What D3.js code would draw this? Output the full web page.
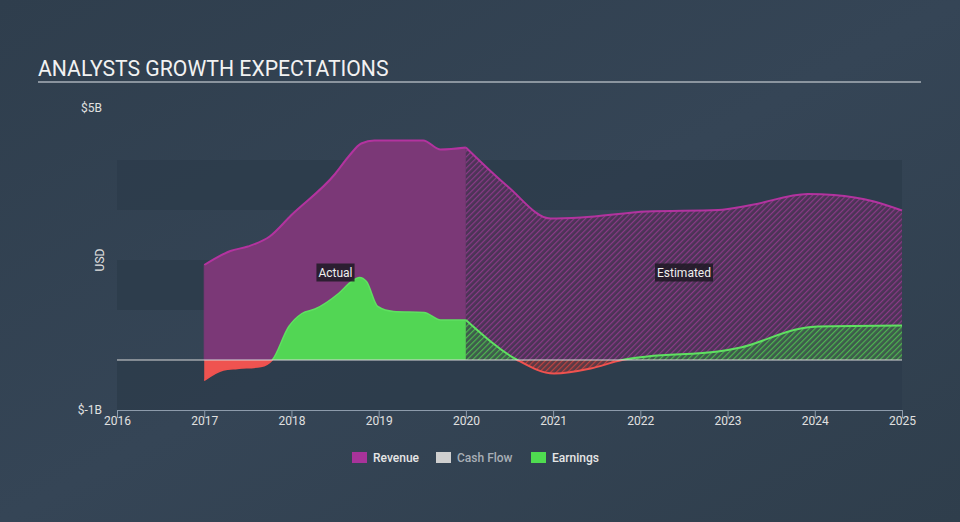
<!DOCTYPE html>
<html>
<head>
<meta charset="utf-8">
<script src="https://cdn.jsdelivr.net/npm/d3@7"></script>
<style>
  html, body { margin: 0; padding: 0; background: #344454; }
  svg { display: block; font-family: Roboto, "Open Sans", sans-serif; }
</style>
</head>
<body>
<svg id="chart" width="960" height="522"></svg>
<script>
// ---- Data (decimal year, USD billions) ----
const revenueActualYears = [2017.0, 2017.3, 2017.5, 2017.75, 2018.0, 2018.5, 2018.66, 2018.8, 2018.95, 2019.51, 2019.71, 2020.0];
const revenueActualVals  = [1.90, 2.18, 2.27, 2.47, 2.90, 3.72, 4.08, 4.33, 4.39, 4.39, 4.21, 4.25];
const revenueEstYears = [2020.0, 2020.48, 2020.97, 2021.32, 2022.08, 2022.89, 2023.27, 2023.92, 2024.22, 2024.68, 2025.0];
const revenueEstVals  = [4.25, 3.47, 2.83, 2.85, 2.97, 3.00, 3.10, 3.32, 3.30, 3.17, 2.99];

const earningsActualYears = [2017.0, 2017.22, 2017.38, 2017.65, 2017.78, 2017.97, 2018.12, 2018.27, 2018.54, 2018.69, 2018.78, 2018.86, 2018.99, 2019.17, 2019.52, 2019.71, 2020.0];
const earningsActualVals  = [-0.41, -0.20, -0.17, -0.13, 0.0, 0.67, 0.93, 1.02, 1.33, 1.57, 1.65, 1.57, 1.07, 0.97, 0.95, 0.80, 0.80];
const earningsEstYears = [2020.0, 2020.59, 2021.01, 2021.43, 2021.79, 2022.08, 2022.89, 2023.15, 2023.84, 2024.03, 2025.0];
const earningsEstVals  = [0.80, 0.0, -0.27, -0.17, 0.0, 0.07, 0.17, 0.25, 0.63, 0.67, 0.69];

const xTickYears = [2016, 2017, 2018, 2019, 2020, 2021, 2022, 2023, 2024, 2025];
const yTickVals = [-1, 5];
const bandVals = [4, 2, 0]; // dark bands [v-1, v]
const legendItems = ["Revenue", "Cash Flow", "Earnings"];
const legendColors = ["#a8339a", "#cfcfcf", "#4fdc50"];

// ---- Layout ----
const svg = d3.select("#chart");
const W = 960, H = 522;
const x = d3.scaleLinear().domain([2016, 2025]).range([117, 902]);
const y = d3.scaleLinear().domain([-1, 5]).range([410, 110]);

const defs = svg.append("defs");
const bg = defs.append("linearGradient").attr("id", "bg").attr("x1", 0).attr("y1", 0).attr("x2", 1).attr("y2", 1);
bg.append("stop").attr("offset", "0%").attr("stop-color", "#2f3e4d");
bg.append("stop").attr("offset", "50%").attr("stop-color", "#354556");
bg.append("stop").attr("offset", "100%").attr("stop-color", "#2f3e4c");
svg.append("rect").attr("width", W).attr("height", H).attr("fill", "url(#bg)");

function hatch(id, bgCol, lineCol) {
  const p = defs.append("pattern").attr("id", id).attr("patternUnits", "userSpaceOnUse")
    .attr("width", 4).attr("height", 4).attr("patternTransform", "rotate(45)");
  p.append("rect").attr("width", 4).attr("height", 4).attr("fill", bgCol);
  p.append("line").attr("x1", 0).attr("y1", 0).attr("x2", 0).attr("y2", 4)
    .attr("stroke", lineCol).attr("stroke-width", 2.4);
}
hatch("hatchRev", "#4b3456", "#8a3a87");
hatch("hatchEarn", "#3e5a4c", "#4db64f");
hatch("hatchNeg", "#5a3a45", "#c04240");

// clip paths above/below zero
defs.append("clipPath").attr("id", "above").append("rect")
  .attr("x", 0).attr("y", 0).attr("width", W).attr("height", y(0));
defs.append("clipPath").attr("id", "below").append("rect")
  .attr("x", 0).attr("y", y(0)).attr("width", W).attr("height", H - y(0));

// ---- Bands ----
svg.append("g").selectAll("rect").data(bandVals).join("rect")
  .attr("x", x(2016)).attr("width", x(2025) - x(2016))
  .attr("y", d => y(d)).attr("height", d => y(d - 1) - y(d))
  .attr("fill", "#2d3c4b").attr("opacity", 0.85);

// ---- Title ----
svg.append("text").attr("x", 38).attr("y", 76).text("ANALYSTS GROWTH EXPECTATIONS")
  .attr("fill", "#f2f2f2").attr("font-size", 21.2);
svg.append("line").attr("x1", 38).attr("x2", 921).attr("y1", 82).attr("y2", 82)
  .attr("stroke", "#a9b0b8").attr("stroke-width", 1.5);

// ---- Areas ----
const curve = d3.curveMonotoneX;
const zip = (xs, vs) => xs.map((t, i) => ({ t, v: vs[i] }));
const revA = zip(revenueActualYears, revenueActualVals);
const revE = zip(revenueEstYears, revenueEstVals);
const earnA = zip(earningsActualYears, earningsActualVals);
const earnE = zip(earningsEstYears, earningsEstVals);

const area = d3.area().x(d => x(d.t)).y0(y(0)).y1(d => y(d.v)).curve(curve);
const line = d3.line().x(d => x(d.t)).y(d => y(d.v)).curve(curve);

svg.append("path").datum(revA).attr("d", area).attr("fill", "#7b3877");
svg.append("path").datum(revE).attr("d", area).attr("fill", "url(#hatchRev)");

// earnings actual
svg.append("path").datum(earnA).attr("d", area).attr("fill", "#52d654").attr("clip-path", "url(#above)");
svg.append("path").datum(earnA).attr("d", area).attr("fill", "#ef5350").attr("clip-path", "url(#below)");
// earnings estimated
svg.append("path").datum(earnE).attr("d", area).attr("fill", "url(#hatchEarn)").attr("clip-path", "url(#above)");
svg.append("path").datum(earnE).attr("d", area).attr("fill", "url(#hatchNeg)").attr("clip-path", "url(#below)");

// lines
svg.append("path").datum(revA).attr("d", line).attr("fill", "none").attr("stroke", "#b3339f").attr("stroke-width", 2);
svg.append("path").datum(revE).attr("d", line).attr("fill", "none").attr("stroke", "#b3339f").attr("stroke-width", 2);
svg.append("path").datum(earnA).attr("d", line).attr("fill", "none").attr("stroke", "#5fe061").attr("stroke-width", 1.5).attr("clip-path", "url(#above)");
svg.append("path").datum(earnA).attr("d", line).attr("fill", "none").attr("stroke", "#f0524f").attr("stroke-width", 1.5).attr("clip-path", "url(#below)");
svg.append("path").datum(earnE).attr("d", line).attr("fill", "none").attr("stroke", "#5fe061").attr("stroke-width", 2).attr("clip-path", "url(#above)");
svg.append("path").datum(earnE).attr("d", line).attr("fill", "none").attr("stroke", "#f0524f").attr("stroke-width", 2).attr("clip-path", "url(#below)");

// start edge of revenue area
svg.append("line").attr("x1", x(2017)).attr("x2", x(2017)).attr("y1", y(0)).attr("y2", y(revenueActualVals[0]))
  .attr("stroke", "#7b3877").attr("stroke-width", 1);

// zero line
svg.append("line").attr("x1", x(2016)).attr("x2", x(2025)).attr("y1", y(0)).attr("y2", y(0))
  .attr("stroke", "#d8d8d8").attr("stroke-width", 1.2);

// ---- Axes ----
const xAxis = svg.append("g").attr("transform", `translate(0,${y(-1)})`)
  .call(d3.axisBottom(x).tickValues(xTickYears).tickFormat(d3.format("d")).tickSize(8).tickSizeOuter(8));
xAxis.selectAll("path, line").attr("stroke", "#8d9bab");
xAxis.selectAll("text").attr("fill", "#e0e0e0").attr("font-size", 12).attr("dy", "0.3em")
  .attr("font-family", "Roboto, sans-serif");

const yAxis = svg.append("g").attr("transform", `translate(102,0)`)
  .call(d3.axisLeft(y).tickValues(yTickVals).tickSize(0).tickPadding(0)
    .tickFormat(d => "$" + d + "B"));
yAxis.select(".domain").remove();
yAxis.selectAll("text").attr("fill", "#e0e0e0").attr("font-size", 12).attr("font-family", "Roboto, sans-serif");
yAxis.selectAll(".tick").filter(d => d === 5).attr("transform", `translate(0,${y(5) - 2})`);

svg.append("text").attr("transform", "translate(104,260) rotate(-90)").attr("text-anchor", "middle")
  .attr("fill", "#e0e0e0").attr("font-size", 12).text("USD");

// ---- Labels ----
function tag(cx, cy, label) {
  const g = svg.append("g");
  const t = g.append("text").attr("x", cx).attr("y", cy).attr("text-anchor", "middle")
    .attr("dominant-baseline", "central").attr("fill", "#eeeeee").attr("font-size", 12).text(label);
  const bb = t.node().getBBox();
  g.insert("rect", "text").attr("x", bb.x - 2).attr("y", cy - 9).attr("width", bb.width + 4).attr("height", 18)
    .attr("fill", "#1f1a24").attr("opacity", 0.85);
}
tag(335.5, 272.5, "Actual");
tag(684, 272.5, "Estimated");

// ---- Legend ----
const legX = [352, 436, 531];
const lg = svg.append("g").selectAll("g").data(legendItems).join("g")
  .attr("transform", (d, i) => `translate(${legX[i]},452)`);
lg.append("rect").attr("width", 15).attr("height", 11).attr("fill", (d, i) => legendColors[i]);
lg.append("text").attr("x", 21).attr("y", 6).attr("dominant-baseline", "central")
  .attr("font-size", 12).attr("font-weight", 500)
  .attr("fill", (d, i) => i === 1 ? "#a9afb6" : "#e6e6e6").text(d => d);
</script>
</body>
</html>
